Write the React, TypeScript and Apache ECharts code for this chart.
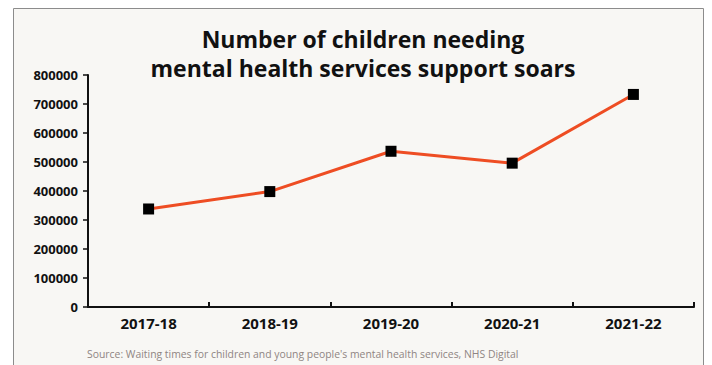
import React, { useEffect, useRef } from "react";
import * as echarts from "echarts";

const categories = ["2017-18", "2018-19", "2019-20", "2020-21", "2021-22"];
const children = [338000, 398000, 537000, 496000, 733000];
const titleLines = ["Number of children needing", "mental health services support soars"];
const sourceText = "Source: Waiting times for children and young people's mental health services, NHS Digital";

const FONT = "'Open Sans', sans-serif";

export default function App() {
  const ref = useRef<HTMLDivElement>(null);
  useEffect(() => {
    document.body.style.margin = "0";
    const chart = echarts.init(ref.current!, null, { renderer: "svg" });
    chart.setOption({
      animation: false,
      backgroundColor: "#ffffff",
      graphic: [
        {
          type: "rect",
          z: -10,
          shape: { x: 13.5, y: 8.5, width: 690, height: 400 },
          style: { fill: "#f8f7f4", stroke: "#8c8c8c", lineWidth: 1 },
        },
        {
          type: "text",
          x: 363,
          y: 24,
          style: {
            text: titleLines.join("\n"),
            font: `bold 23px ${FONT}`,
            fill: "#111111",
            align: "center",
            textAlign: "center",
            verticalAlign: "top",
            lineHeight: 29,
          },
        },
        {
          type: "text",
          left: 87,
          top: 349,
          style: {
            text: sourceText,
            font: `10.4px ${FONT}`,
            fill: "#8f8583",
          },
        },
      ],
      grid: { left: 88, right: 18, top: 75, bottom: 58, containLabel: false },
      xAxis: {
        type: "category",
        data: categories,
        boundaryGap: true,
        axisLine: { show: true, lineStyle: { color: "#111", width: 2 } },
        axisTick: { show: true, inside: true, length: 5, lineStyle: { color: "#111", width: 2 } },
        axisLabel: { color: "#111", fontFamily: FONT, fontWeight: "bold", fontSize: 15, margin: 8 },
      },
      yAxis: {
        type: "value",
        min: 0,
        max: 800000,
        interval: 100000,
        splitLine: { show: false },
        axisLine: { show: true, lineStyle: { color: "#111", width: 2 } },
        axisTick: { show: true, inside: false, length: 5, lineStyle: { color: "#111", width: 1.5 } },
        axisLabel: {
          color: "#111",
          fontFamily: FONT,
          fontWeight: "bold",
          fontSize: 13,
          margin: 10,
          formatter: (v: number) => String(v),
        },
      },
      series: [
        {
          type: "line",
          data: children,
          symbol: "rect",
          symbolSize: 11,
          itemStyle: { color: "#000000" },
          lineStyle: { color: "#ee4d23", width: 3 },
        },
      ],
    });
    return () => chart.dispose();
  }, []);
  return <div ref={ref} style={{ width: 712, height: 365 }} />;
}
